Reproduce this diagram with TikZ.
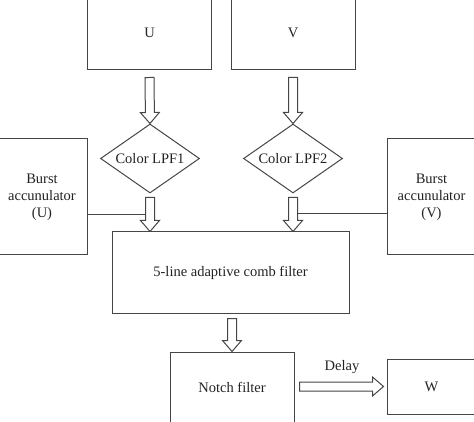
\documentclass[tikz,border=0pt]{standalone}
\usepackage{fontspec}
\setmainfont{Liberation Serif}
\usetikzlibrary{calc,shapes.geometric}
\definecolor{linegray}{HTML}{454545}
\definecolor{textgray}{HTML}{222222}
\tikzset{
  box/.style={draw=linegray, line width=1pt, minimum width=124pt, inner sep=0pt, align=center},
  lpf/.style={diamond, draw=linegray, line width=1pt, aspect=1.43, minimum width=99pt, minimum height=69pt, inner sep=0pt},
  wire/.style={draw=linegray, line width=1pt},
  fat/.style={draw=linegray, line width=1pt, line join=miter, to path={
    ($(\tikztostart)!4.5pt!90:(\tikztotarget)$)
    -- ($(\tikztotarget)!11pt!(\tikztostart)!4.5pt!90:(\tikztotarget)$)
    -- ($(\tikztotarget)!11pt!(\tikztostart)!9.5pt!90:(\tikztotarget)$)
    -- (\tikztotarget)
    -- ($(\tikztotarget)!11pt!(\tikztostart)!9.5pt!-90:(\tikztotarget)$)
    -- ($(\tikztotarget)!11pt!(\tikztostart)!4.5pt!-90:(\tikztotarget)$)
    -- ($(\tikztostart)!4.5pt!-90:(\tikztotarget)$)
    -- cycle}}
}
\begin{document}
\begin{tikzpicture}[x=1pt, y=-1pt, font=\fontsize{14.5}{17}\selectfont, text=textgray]
  \useasboundingbox (0,0) rectangle (474,422);
  \clip (0,0) rectangle (474,422);
  % inputs
  \node[box, minimum height=74pt] (u) at (149.5,33) {U};
  \node[box, minimum height=74pt] (v) at (293,33) {V};
  % colour low pass filters
  \node[lpf] (lpf1) at (150,158.5) {Color LPF1};
  \node[lpf] (lpf2) at (293,158.5) {Color LPF2};
  % burst accumulators
  \node[box, minimum width=90pt, minimum height=116pt] (bu) at (42,197) {Burst\\accunulator\\(U)};
  \node[box, minimum width=89pt, minimum height=116pt] (bv) at (431.5,197) {Burst\\accunulator\\(V)};
  % filters and output
  \node[box, minimum width=237pt, minimum height=81pt] (comb) at (230.5,272.5) {5-line adaptive comb filter};
  \node[box, minimum height=76pt] (notch) at (232,390) {\raisebox{5pt}{Notch filter}};
  \node[box, minimum width=89pt, minimum height=55pt] (w) at (431.5,386.5) {W};
  \node (delay) at (342,367) {Delay};

  \coordinate (us) at ([yshift=-7pt]u.south);
  \coordinate (vs) at ([yshift=-7pt]v.south);
  \coordinate (l1s) at ([yshift=-4pt]lpf1.south);
  \coordinate (l2s) at ([yshift=-4pt]lpf2.south);
  \coordinate (c1) at (lpf1.south |- comb.north);
  \coordinate (c2) at (lpf2.south |- comb.north);
  \coordinate (cs) at ($(notch.north |- comb.south)+(0,5)$);
  \coordinate (ns) at ($(notch.east |- w.west)+(5,0)$);
  \coordinate (we) at ($(w.west)+(-3,0)$);

  \draw[fat] (us) to (lpf1.north);
  \draw[fat] (vs) to (lpf2.north);
  \draw[fat] (l1s) to (c1);
  \draw[fat] (l2s) to (c2);
  \draw[fat] (cs) to (notch.north);
  \draw[fat] (ns) to (we);

  % burst lines into the filter arrows
  \coordinate (bue) at ($(bu.east)+(0,18)$);
  \coordinate (j1) at ($(l1s)+(-4.5,0)$);
  \coordinate (bvw) at ($(bv.west)+(0,17)$);
  \coordinate (j2) at ($(l2s)+(4.5,0)$);
  \draw[wire] (bue) -- (bue -| j1);
  \draw[wire] (bvw) -- (bvw -| j2);
\end{tikzpicture}
\end{document}
